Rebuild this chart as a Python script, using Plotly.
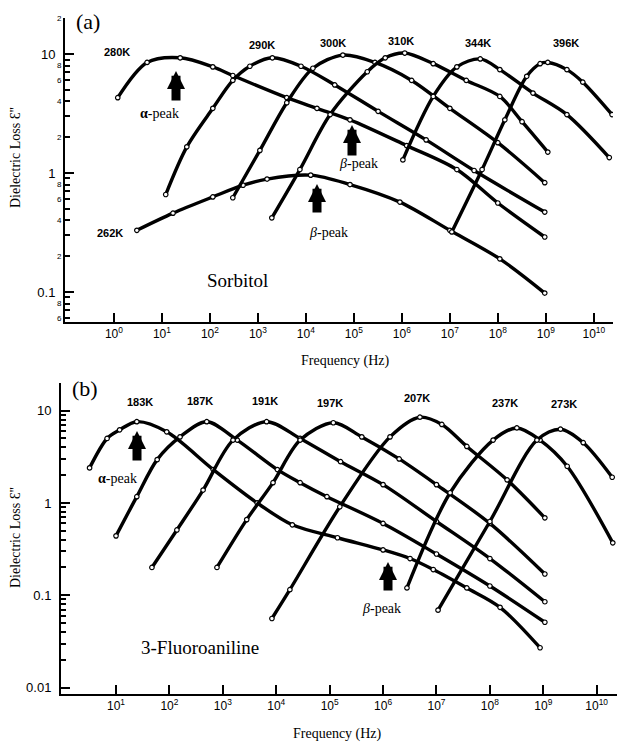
import math
import plotly.graph_objects as go

W, H = 625, 742

# ---------------- Panel (a): Sorbitol ----------------
# frequency (Hz) / dielectric loss
fa_262 = [3.0, 17, 115, 490, 1550, 1.26e4, 8.3e4, 9.1e5, 1.0e7, 1.1e8, 9.5e8]
ea_262 = [0.33, 0.46, 0.63, 0.79, 0.89, 0.96, 0.80, 0.57, 0.33, 0.19, 0.098]

fa_280 = [1.2, 4.9, 24, 115, 300, 4.0e3, 1.7e4, 8.3e4, 1.26e6, 1.4e7, 1.0e8, 9.5e8]
ea_280 = [4.3, 8.5, 9.3, 7.8, 6.6, 4.3, 3.5, 2.8, 1.7, 1.07, 0.56, 0.29]

fa_290 = [12, 33, 115, 300, 680, 2.0e3, 7.9e3, 4.0e4, 3.2e5, 3.2e6, 3.2e7, 9.5e8]
ea_290 = [0.66, 1.66, 3.5, 6.0, 7.9, 9.3, 7.9, 5.5, 3.3, 1.9, 1.05, 0.47]

fa_300 = [300, 1.1e3, 4.0e3, 1.4e4, 5.9e4, 2.75e5, 1.6e6, 1.0e7, 1.0e8, 9.5e8]
ea_300 = [0.62, 1.55, 3.9, 7.6, 9.8, 8.5, 6.0, 3.5, 1.8, 0.83]

fa_310 = [1.95e3, 7.5e3, 3.2e4, 1.9e5, 4.5e5, 1.15e6, 4.5e6, 2.2e7, 1.1e8, 3.2e8, 1.1e9]
ea_310 = [0.42, 1.07, 3.1, 7.1, 9.3, 10.2, 8.3, 6.0, 4.4, 2.7, 1.5]

fa_344 = [1.05e6, 4.5e6, 1.4e7, 4.3e7, 1.1e8, 5.4e8, 2.75e9, 2.1e10]
ea_344 = [1.29, 4.4, 7.8, 9.1, 7.4, 4.7, 3.1, 1.35]

fa_396 = [1.1e7, 4.7e7, 1.4e8, 4.0e8, 7.6e8, 1.1e9, 2.75e9, 5.9e9, 2.4e10]
ea_396 = [0.32, 1.07, 2.8, 6.5, 8.3, 8.5, 7.4, 5.8, 3.1]

# ---------------- Panel (b): 3-Fluoroaniline ----------------
fb_183 = [3.2, 6.8, 11.7, 24.5, 89, 660, 4.4e3, 2.0e4, 1.4e5, 1.0e6, 3.2e6, 8.7e6, 3.7e7, 1.55e8, 8.7e8]
eb_183 = [2.4, 5.0, 6.2, 7.6, 5.9, 2.3, 1.0, 0.58, 0.42, 0.31, 0.25, 0.19, 0.12, 0.074, 0.027]

fb_187 = [10, 24.5, 59, 158, 500, 1.86e3, 1.05e4, 2.8e4, 8.9e4, 1.0e6, 1.0e7, 1.0e8, 1.07e9]
eb_187 = [0.44, 1.17, 2.95, 5.2, 7.6, 4.8, 2.3, 1.66, 1.17, 0.60, 0.28, 0.126, 0.051]

fb_191 = [47, 138, 427, 1.55e3, 6.6e3, 2.8e4, 1.6e5, 1.0e6, 1.0e7, 1.0e8, 1.07e9]
eb_191 = [0.20, 0.51, 1.38, 4.8, 7.6, 5.0, 2.8, 1.58, 0.63, 0.25, 0.085]

fb_197 = [776, 2.8e3, 8.7e3, 2.8e4, 1.17e5, 4.0e5, 2.0e6, 1.0e7, 1.0e8, 1.07e9]
eb_197 = [0.20, 0.66, 1.66, 4.8, 7.4, 5.2, 3.0, 1.58, 0.60, 0.17]

fb_207 = [8.3e3, 1.8e4, 1.55e5, 1.35e6, 4.9e6, 1.26e7, 3.7e7, 2.1e8, 1.07e9]
eb_207 = [0.056, 0.115, 0.91, 5.2, 8.5, 7.1, 4.1, 1.78, 0.69]

fb_237 = [2.8e6, 1.8e7, 1.15e8, 3.2e8, 8.7e8, 2.8e9, 2.0e10]
eb_237 = [0.12, 1.29, 4.8, 6.5, 4.8, 2.5, 0.37]

fb_273 = [1.07e7, 1.0e8, 7.6e8, 2.1e9, 5.6e9, 1.95e10]
eb_273 = [0.069, 0.63, 4.8, 6.3, 4.5, 1.9]

curves_a = [(fa_262, ea_262), (fa_280, ea_280), (fa_290, ea_290), (fa_300, ea_300),
            (fa_310, ea_310), (fa_344, ea_344), (fa_396, ea_396)]
curves_b = [(fb_183, eb_183), (fb_187, eb_187), (fb_191, eb_191), (fb_197, eb_197),
            (fb_207, eb_207), (fb_237, eb_237), (fb_273, eb_273)]

temps_a = ["262K", "280K", "290K", "300K", "310K", "344K", "396K"]
temps_b = ["183K", "187K", "191K", "197K", "207K", "237K", "273K"]

xticks_a = [1e0, 1e1, 1e2, 1e3, 1e4, 1e5, 1e6, 1e7, 1e8, 1e9, 1e10]
xticks_b = [1e1, 1e2, 1e3, 1e4, 1e5, 1e6, 1e7, 1e8, 1e9, 1e10]

# small labelled minor ticks of panel (a) y axis
ya_minor_vals = [0.06, 0.08, 0.2, 0.4, 0.6, 0.8, 2, 4, 6, 8, 20]
ya_minor_text = ["6", "8", "2", "4", "6", "8", "2", "4", "6", "8", "2"]

SANS = "Liberation Sans, Arial, sans-serif"
SERIF = "Liberation Serif, Times New Roman, serif"

fig = go.Figure()


def add_curve(f, e, xa, ya):
    fig.add_trace(go.Scatter(
        x=f, y=e, xaxis=xa, yaxis=ya, mode="lines+markers",
        line=dict(color="black", width=3.4, shape="spline", smoothing=0.9),
        marker=dict(size=4.5, color="white", line=dict(color="black", width=1.2)),
        showlegend=False, hoverinfo="skip"))


for f, e in curves_a:
    add_curve(f, e, "x", "y")
for f, e in curves_b:
    add_curve(f, e, "x2", "y2")


def minor_vals(lo, hi):
    out = []
    for d in range(lo, hi):
        for m in range(2, 10):
            out.append(m * 10.0 ** d)
    return out


def xdom(a, b):
    return [a / W, b / W]


def ydom(top, bottom):
    return [1 - bottom / H, 1 - top / H]


xaxis_common = dict(type="log", showline=True, linecolor="black", linewidth=2,
                    ticks="inside", ticklen=9, tickwidth=2, tickcolor="black",
                    showgrid=False, zeroline=False,
                    tickfont=dict(family=SANS, size=12, color="black"))
yaxis_common = dict(type="log", showline=True, linecolor="black", linewidth=2,
                    ticks="inside", ticklen=9, tickwidth=2, tickcolor="black",
                    showgrid=False, zeroline=False, ticklabelstandoff=5,
                    tickfont=dict(family=SANS, size=13, color="black"))

fig.update_layout(
    width=W, height=H, margin=dict(l=0, r=0, t=0, b=0),
    paper_bgcolor="white", plot_bgcolor="white",
    xaxis=dict(xaxis_common, domain=xdom(65, 613), range=[-1.02, 10.40], anchor="y",
               tickvals=xticks_a,
               ticktext=["10<sup>%d</sup>" % i for i in range(0, 11)]),
    yaxis=dict(yaxis_common, domain=ydom(18, 322), range=[-1.252, 1.303], anchor="x",
               tickvals=[0.1, 1, 10], ticktext=["0.1", "1", "10"],
               minor=dict(ticks="inside", ticklen=5, tickwidth=1.5, tickcolor="black",
                          tickvals=minor_vals(-2, 2))),
    xaxis2=dict(xaxis_common, domain=xdom(61, 617), range=[-0.03, 10.38], anchor="y2",
                tickvals=xticks_b,
                ticktext=["10<sup>%d</sup>" % i for i in range(1, 11)]),
    yaxis2=dict(yaxis_common, domain=ydom(383, 694), range=[-2.07, 1.30], anchor="x2",
                tickvals=[0.01, 0.1, 1, 10], ticktext=["0.01", "0.1", "1", "10"],
                minor=dict(ticks="inside", ticklen=5, tickwidth=1.5, tickcolor="black",
                           tickvals=minor_vals(-2, 2))),
)


def P(px, py):
    return px / W, 1 - py / H


annotations = []


def label(px, py, text, size, family, angle=0):
    x, y = P(px, py)
    annotations.append(dict(x=x, y=y, xref="paper", yref="paper", text=text,
                            showarrow=False, textangle=angle,
                            font=dict(family=family, size=size, color="black"),
                            xanchor="center", yanchor="middle"))


def arrow(px, tip_y, base_y):
    x, y = P(px, tip_y)
    annotations.append(dict(x=x, y=y, xref="paper", yref="paper", text="",
                            showarrow=True, arrowhead=2, arrowsize=0.4, arrowwidth=9,
                            arrowcolor="black", ax=0, ay=base_y - tip_y, standoff=0))


# small minor tick labels on panel (a) y axis
for v, t in zip(ya_minor_vals, ya_minor_text):
    annotations.append(dict(x=64 / W, y=math.log10(v), xref="paper", yref="y", text=t,
                            showarrow=False, xanchor="right", yanchor="middle",
                            font=dict(family=SANS, size=8, color="black")))

# panel (a) texts
label(88, 22, "(a)", 22, SERIF)
pos_a = [(110, 233), (117, 52), (262, 45), (333, 43), (401, 41), (478, 43), (566, 43)]
for t, (px, py) in zip(temps_a, pos_a):
    label(px, py, "<b>%s</b>" % t, 11, SANS)
label(159, 113, "<b>α</b>-peak", 14, SERIF)
label(358, 164, "<i>β</i>-peak", 14, SERIF)
label(328, 232, "<i>β</i>-peak", 14, SERIF)
label(237, 280, "Sorbitol", 19, SERIF)
label(345, 361, "Frequency (Hz)", 14, SERIF)
label(15, 158, "Dielectric Loss Ɛ''", 14, SERIF, -90)
arrow(176, 71, 102)
arrow(352, 125, 157)
arrow(317, 184, 214)

# panel (b) texts
label(85, 388, "(b)", 22, SERIF)
pos_b = [(140, 402), (200, 401), (265, 401), (330, 403), (417, 398), (505, 403), (564, 404)]
for t, (px, py) in zip(temps_b, pos_b):
    label(px, py, "<b>%s</b>" % t, 11, SANS)
label(117, 478, "<b>α</b>-peak", 14, SERIF)
label(381, 608, "<i>β</i>-peak", 14, SERIF)
label(200, 647, "3-Fluoroaniline", 19, SERIF)
label(338, 734, "Frequency (Hz)", 14, SERIF)
label(15, 538, "Dielectric Loss Ɛ''", 14, SERIF, -90)
arrow(137, 431, 462)
arrow(388, 562, 592)

fig.update_layout(annotations=annotations)

fig.write_html("out.html")
